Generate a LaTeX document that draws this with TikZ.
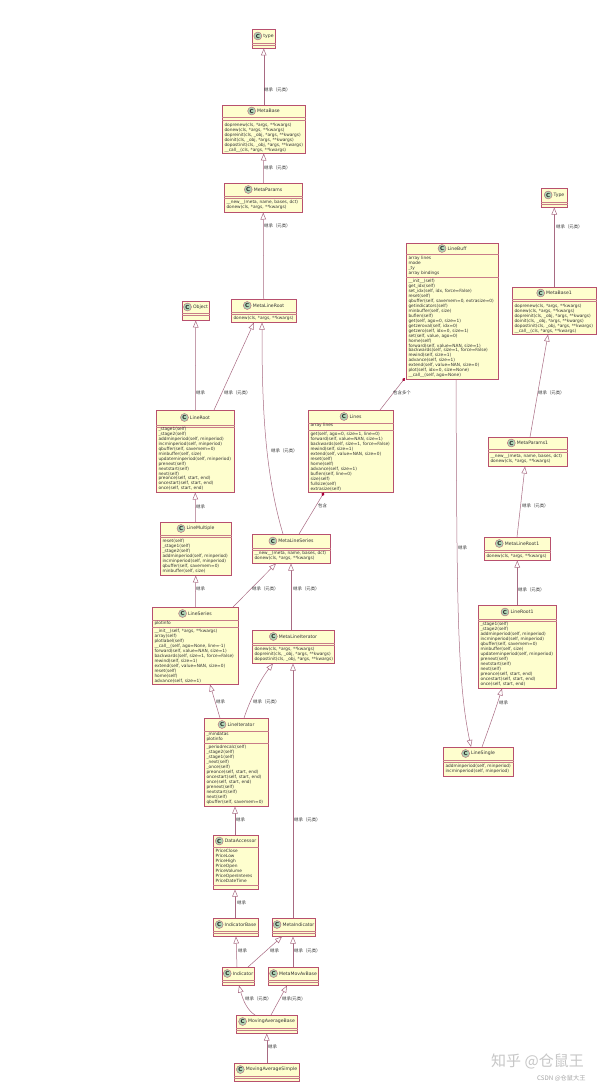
\documentclass[tikz,border=0pt]{standalone}
\usepackage{fontspec}
\setmainfont{DejaVu Sans}
\newfontfamily\cjkf{Noto Sans CJK SC}
\usetikzlibrary{arrows.meta,shadows}
\definecolor{umlred}{HTML}{A80036}
\definecolor{umlfill}{HTML}{FEFECE}
\definecolor{umlcirc}{HTML}{ADD1B2}
\definecolor{umledge}{HTML}{A86A82}
\definecolor{umlborder}{HTML}{B8506E}
\definecolor{umlsep}{HTML}{C87C88}
\catcode`\_=12
\tikzset{
  classbox/.style={draw=umlborder,line width=.5pt,fill=umlfill,inner sep=0pt,anchor=north west,
    drop shadow={shadow xshift=1.1pt,shadow yshift=-1.1pt,fill=black!40,opacity=1}},
  sepline/.style={draw=umlsep,line width=.4pt},
  titletext/.style={font=\fontsize{4.6}{5}\selectfont,text=black!80,inner sep=0pt},
  circ/.style={circle,draw=umlborder,line width=.3pt,fill=umlcirc,minimum size=8pt,inner sep=0pt,
    font=\fontsize{5.5}{5.5}\selectfont\bfseries,text=black!85},
  memtext/.style={font=\fontsize{4.3}{4.95}\selectfont,text=black!80,inner sep=0pt,align=left,anchor=north west},
  lbl/.style={font=\fontsize{4.4}{5}\selectfont\cjkf,text=black!80,inner sep=0pt,anchor=west},
  inh/.style={draw=umledge,line width=.5pt,-{Triangle[fill=white,length=7pt,width=5.5pt]}},
  comp/.style={draw=umledge,line width=.5pt,-{Diamond[fill=umlred,color=umlred,length=4pt,width=3pt]}},
  wm/.style={font=\fontsize{15}{18}\selectfont\cjkf,text=black!22,inner sep=0pt,anchor=west},
  wmsmall/.style={font=\fontsize{6.2}{7}\selectfont\cjkf,text=black!35,inner sep=0pt,anchor=west},
}
% id, title, x1, y1, x2, y2, sep1, sep2
\newcommand{\umlclass}[8]{%
  \node[classbox,minimum width={(#5-#3)*1pt},minimum height={(#6-#4)*1pt}] (#1) at (#3,#4) {};
  \draw[sepline] (#1.west |- 0,#7) -- (#1.east |- 0,#7);
  \draw[sepline] (#1.west |- 0,#8) -- (#1.east |- 0,#8);
  \node[titletext] (#1-t) at ({(#3+#5)/2+5},{(#4+#7)/2}) {#2};
  \node[circ,anchor=east] (#1-c) at ([xshift=-1.2pt]#1-t.west) {C};
}
% id, sep y, lines
\newcommand{\umlattrs}[3]{\node[memtext] (#1-a) at ([xshift=2.3pt]#1.west |- 0,#2+2.2) {#3};}
\newcommand{\umlmeths}[3]{\node[memtext] (#1-m) at ([xshift=2.3pt]#1.west |- 0,#2+2.2) {#3};}
\newcommand{\inhl}{继承（元类）}
\newcommand{\inhs}{继承}
\begin{document}
\begin{tikzpicture}[x=1pt,y=-1pt]
\useasboundingbox (0,0) rectangle (600,1086);
\fill[white] (0,0) rectangle (600,1086);

\umlclass{type}{type}{252}{29}{275}{48}{43}{45}
\umlclass{MetaBase}{MetaBase}{222}{105}{305}{153}{117}{120}
\umlmeths{MetaBase}{120.6}{doprenew(cls, *args, **kwargs)\\donew(cls, *args, **kwargs)\\dopreinit(cls, _obj, *args, **kwargs)\\doinit(cls, _obj, *args, **kwargs)\\dopostinit(cls, _obj, *args, **kwargs)\\__call__(cls, *args, **kwargs)}
\umlclass{MetaParams}{MetaParams}{224}{183}{302}{212}{196}{198}
\umlmeths{MetaParams}{198}{__new__(meta, name, bases, dct)\\donew(cls, *args, **kwargs)}
\umlclass{MetaLineRoot}{MetaLineRoot}{231}{299}{296}{322}{312}{314}
\umlmeths{MetaLineRoot}{314}{donew(cls, *args, **kwargs)}
\umlclass{Object}{Object}{182}{301}{209}{320}{313}{315}
\umlclass{LineRoot}{LineRoot}{156}{410}{234}{492}{425}{427}
\umlmeths{LineRoot}{424.8}{_stage1(self)\\_stage2(self)\\addminperiod(self, minperiod)\\incminperiod(self, minperiod)\\qbuffer(self, savemem=0)\\minbuffer(self, size)\\updateminperiod(self, minperiod)\\prenext(self)\\nextstart(self)\\next(self)\\preonce(self, start, end)\\oncestart(self, start, end)\\once(self, start, end)}
\umlclass{Lines}{Lines}{308}{410}{393}{492}{423}{430}
\umlattrs{Lines}{421}{array lines}
\umlmeths{Lines}{430}{get(self, ago=0, size=1, line=0)\\forward(self, value=NAN, size=1)\\backwards(self, size=1, force=False)\\rewind(self, size=1)\\extend(self, value=NAN, size=0)\\reset(self)\\home(self)\\advance(self, size=1)\\buflen(self, line=0)\\size(self)\\fullsize(self)\\extrasize(self)}
\umlclass{LineBuff}{LineBuff}{406}{243}{498}{379}{254}{277}
\umlattrs{LineBuff}{254}{array lines\\mode\\_ty\\array bindings}
\umlmeths{LineBuff}{277}{__init__(self)\\get_idx(self)\\set_idx(self, idx, force=False)\\reset(self)\\qbuffer(self, savemem=0, extrasize=0)\\getindicators(self)\\minbuffer(self, size)\\buflen(self)\\get(self, ago=0, size=1)\\getzeroval(self, idx=0)\\getzero(self, idx=0, size=1)\\set(self, value, ago=0)\\home(self)\\forward(self, value=NAN, size=1)\\backwards(self, size=1, force=False)\\rewind(self, size=1)\\advance(self, size=1)\\extend(self, value=NAN, size=0)\\plot(self, idx=0, size=None)\\__call__(self, ago=None)}
\umlclass{Type}{Type}{541}{188}{567}{207}{202}{204}
\umlclass{MetaBase1}{MetaBase1}{512}{287}{596}{334}{299}{301}
\umlmeths{MetaBase1}{301.6}{doprenew(cls, *args, **kwargs)\\donew(cls, *args, **kwargs)\\dopreinit(cls, _obj, *args, **kwargs)\\doinit(cls, _obj, *args, **kwargs)\\dopostinit(cls, _obj, *args, **kwargs)\\__call__(cls, *args, **kwargs)}
\umlclass{MetaParams1}{MetaParams1}{488}{437}{567}{466}{449}{452}
\umlmeths{MetaParams1}{452}{__new__(meta, name, bases, dct)\\donew(cls, *args, **kwargs)}
\umlclass{MetaLineRoot1}{MetaLineRoot1}{484}{537}{550}{560}{550}{552}
\umlmeths{MetaLineRoot1}{552}{donew(cls, *args, **kwargs)}
\umlclass{LineRoot1}{LineRoot1}{478}{605}{556}{688}{619}{621}
\umlmeths{LineRoot1}{620}{_stage1(self)\\_stage2(self)\\addminperiod(self, minperiod)\\incminperiod(self, minperiod)\\qbuffer(self, savemem=0)\\minbuffer(self, size)\\updateminperiod(self, minperiod)\\prenext(self)\\nextstart(self)\\next(self)\\preonce(self, start, end)\\oncestart(self, start, end)\\once(self, start, end)}
\umlclass{LineSingle}{LineSingle}{443}{747}{513}{776}{760}{762}
\umlmeths{LineSingle}{762}{addminperiod(self, minperiod)\\incminperiod(self, minperiod)}
\umlclass{LineMultiple}{LineMultiple}{160}{522}{231}{575}{535}{537}
\umlmeths{LineMultiple}{537}{reset(self)\\_stage1(self)\\_stage2(self)\\addminperiod(self, minperiod)\\incminperiod(self, minperiod)\\qbuffer(self, savemem=0)\\minbuffer(self, size)}
\umlclass{MetaLineSeries}{MetaLineSeries}{252}{534}{330}{563}{548}{550}
\umlmeths{MetaLineSeries}{549}{__new__(meta, name, bases, dct)\\donew(cls, *args, **kwargs)}
\umlclass{LineSeries}{LineSeries}{152}{607}{238}{684}{620}{627}
\umlattrs{LineSeries}{619}{plotinfo}
\umlmeths{LineSeries}{627}{__init__(self, *args, **kwargs)\\array(self)\\plotlabel(self)\\__call__(self, ago=None, line=-1)\\forward(self, value=NAN, size=1)\\backwards(self, size=1, force=False)\\rewind(self, size=1)\\extend(self, value=NAN, size=0)\\reset(self)\\home(self)\\advance(self, size=1)}
\umlclass{MetaLineIterator}{MetaLineIterator}{252}{630}{334}{663}{643}{645}
\umlmeths{MetaLineIterator}{645}{donew(cls, *args, **kwargs)\\dopreinit(cls, _obj, *args, **kwargs)\\dopostinit(cls, _obj, *args, **kwargs)}
\umlclass{LineIterator}{LineIterator}{204}{718}{268}{806}{731}{743}
\umlattrs{LineIterator}{729.7}{_mindatas\\plotinfo}
\umlmeths{LineIterator}{743}{_periodrecalc(self)\\_stage2(self)\\_stage1(self)\\_next(self)\\_once(self)\\preonce(self, start, end)\\oncestart(self, start, end)\\once(self, start, end)\\prenext(self)\\nextstart(self)\\next(self)\\qbuffer(self, savemem=0)}
\umlclass{DataAccessor}{DataAccessor}{213}{835}{258}{889}{847}{885}
\umlattrs{DataAccessor}{847}{PriceClose\\PriceLow\\PriceHigh\\PriceOpen\\PriceVolume\\PriceOpenInteres\\PriceDateTime}
\umlclass{IndicatorBase}{IndicatorBase}{213}{918}{258}{936}{931}{933}
\umlclass{MetaIndicator}{MetaIndicator}{272}{918}{315}{936}{931}{933}
\umlclass{Indicator}{Indicator}{222}{967}{254}{985}{980}{982}
\umlclass{MetaMovAvBase}{MetaMovAvBase}{268}{967}{318}{985}{980}{982}
\umlclass{MovingAverageBase}{MovingAverageBase}{236}{1015}{297}{1033}{1028}{1030}
\umlclass{MovingAverageSimple}{MovingAverageSimple}{234}{1063}{299}{1081}{1076}{1078}

% connectors
\draw[inh] (MetaBase.north) -- (type.south);
\draw[inh] (MetaParams.north) -- (MetaBase.south);
\draw[inh] (MetaLineRoot.north) -- (MetaParams.south);
\draw[inh] (LineRoot.north) -- (Object.south);
\draw[inh] (214,0 |- LineRoot.north) -- (254,0 |- MetaLineRoot.south);
\draw[inh] (283,0 |- MetaLineSeries.north) .. controls (264,470) and (262,400) .. (262,0 |- MetaLineRoot.south);
\draw[comp] (380,0 |- Lines.north) -- (405,378);
\draw[comp] (299,0 |- MetaLineSeries.north) -- (324,0 |- Lines.south);
\draw[inh] (456,0 |- LineBuff.south) .. controls (457,600) and (457,680) .. (471,0 |- LineSingle.north);
\draw[inh] (MetaBase1.north) -- (Type.south);
\draw[inh] (530,0 |- MetaParams1.north) -- (548,0 |- MetaBase1.south);
\draw[inh] (517,0 |- MetaLineRoot1.north) -- (525,0 |- MetaParams1.south);
\draw[inh] (LineRoot1.north) -- (MetaLineRoot1.south);
\draw[inh] (482,0 |- LineSingle.north) .. controls (490,725) and (497,705) .. (502,0 |- LineRoot1.south);
\draw[inh] (LineMultiple.north) -- (LineRoot.south);
\draw[inh] (LineSeries.north) -- (LineMultiple.south);
\draw[inh] (233,0 |- LineSeries.north) -- (276,0 |- MetaLineSeries.south);
\draw[inh] (291,0 |- MetaLineIterator.north) -- (291,0 |- MetaLineSeries.south);
\draw[inh] (220,0 |- LineIterator.north) -- (210,0 |- LineSeries.south);
\draw[inh] (244,0 |- LineIterator.north) .. controls (250,700) and (260,680) .. (273,0 |- MetaLineIterator.south);
\draw[inh] (293,0 |- MetaIndicator.north) -- (293,0 |- MetaLineIterator.south);
\draw[inh] (235,0 |- DataAccessor.north) -- (235,0 |- LineIterator.south);
\draw[inh] (235,0 |- IndicatorBase.north) -- (235,0 |- DataAccessor.south);
\draw[inh] (237,0 |- Indicator.north) -- (236,0 |- IndicatorBase.south);
\draw[inh] (248,0 |- Indicator.north) -- (282,0 |- MetaIndicator.south);
\draw[inh] (293,0 |- MetaMovAvBase.north) -- (293,0 |- MetaIndicator.south);
\draw[inh] (255,0 |- MovingAverageBase.north) .. controls (247,1010) and (243,1000) .. (239,0 |- Indicator.south);
\draw[inh] (271,0 |- MovingAverageBase.north) -- (287,0 |- MetaMovAvBase.south);
\draw[inh] (MovingAverageSimple.north) -- (MovingAverageBase.south);

% labels
\node[lbl] (l1) at (264,90) {\inhl};
\node[lbl] (l2) at (264,168) {\inhl};
\node[lbl] (l3) at (264,226) {\inhl};
\node[lbl] (l4) at (196,393) {\inhs};
\node[lbl] (l5) at (224,393) {\inhl};
\node[lbl] (l6) at (271,451) {\inhl};
\node[lbl] (l7) at (393,393) {包含多个};
\node[lbl] (l8) at (318,506) {包含};
\node[lbl] (l9) at (458,548) {\inhs};
\node[lbl] (l10) at (556,227) {\inhl};
\node[lbl] (l11) at (538,393) {\inhl};
\node[lbl] (l12) at (522,506) {\inhl};
\node[lbl] (l13) at (518,590) {\inhl};
\node[lbl] (l14) at (499,703) {\inhs};
\node[lbl] (l15) at (196,507) {\inhs};
\node[lbl] (l16) at (196,589) {\inhs};
\node[lbl] (l17) at (252,589) {\inhl};
\node[lbl] (l18) at (293,589) {\inhl};
\node[lbl] (l19) at (216,702) {\inhs};
\node[lbl] (l20) at (253,702) {\inhl};
\node[lbl] (l21) at (294,820) {\inhl};
\node[lbl] (l22) at (236,820) {\inhs};
\node[lbl] (l23) at (237,903) {\inhs};
\node[lbl] (l24) at (238,951) {\inhs};
\node[lbl] (l25) at (270,951) {\inhs};
\node[lbl] (l26) at (294,951) {\inhl};
\node[lbl] (l27) at (245,999) {\inhl};
\node[lbl] (l28) at (282,999) {继承(元类)};
\node[lbl] (l29) at (268,1047) {\inhs};

\node[wm] (w1) at (491,1061) {知乎 @仓鼠王};
\node[wmsmall] (w2) at (537,1078) {CSDN @仓鼠大王};
\end{tikzpicture}
\end{document}
